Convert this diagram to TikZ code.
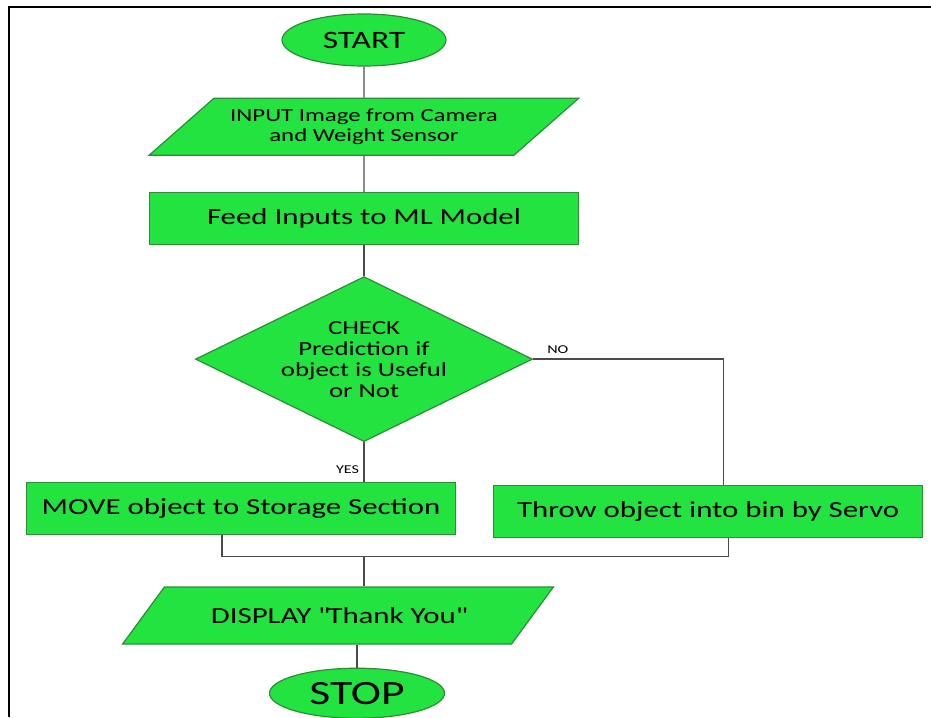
\documentclass[tikz,border=0pt]{standalone}
\usepackage{fontspec}
\setmainfont[FakeStretch=1.34]{Carlito}
\usetikzlibrary{positioning, shapes.geometric}
\definecolor{flowgreen}{RGB}{34,227,64}
\definecolor{flowedge}{RGB}{46,140,56}
\definecolor{flowwire}{RGB}{75,75,75}
\newcommand{\flowfont}[2]{\fontsize{#1}{#2}\selectfont}

\begin{document}
\begin{tikzpicture}[
    terminal/.style={ellipse, draw=flowedge, fill=flowgreen, line width=1.2pt,
                     inner sep=0pt},
    io/.style={trapezium, trapezium left angle=36, trapezium right angle=144,
               trapezium stretches=true, draw=flowedge, fill=flowgreen,
               line width=1.2pt, minimum width=432pt, minimum height=57pt,
               align=center},
    process/.style={rectangle, draw=flowedge, fill=flowgreen, line width=1.2pt,
                    minimum width=429pt, minimum height=52pt,
                    font=\flowfont{23}{27}},
    decision/.style={diamond, draw=flowedge, fill=flowgreen, line width=1.2pt,
                     minimum width=337pt, minimum height=165pt, inner sep=0pt},
    wire/.style={draw=flowwire, line width=1.4pt},
    tag/.style={font=\flowfont{12}{14}}
  ]
  \useasboundingbox (0,0) rectangle (931pt,-717pt);
  \draw[line width=2.5pt] (931pt,-7pt) -- (9pt,-7pt) -- (9pt,-717pt);

  \node[terminal, minimum width=164pt, minimum height=52pt,
        font=\flowfont{25}{30}] (start) at (364pt,-40pt) {START};
  \node[io, below=31pt of start, font=\flowfont{18.5}{20.5}] (input)
    {INPUT Image from Camera\\and Weight Sensor};
  \node[process, below=36pt of input] (feed) {Feed Inputs to ML Model};
  \node[decision, below=31pt of feed] (check) {};
  \node[align=center, font=\flowfont{20}{21}] (checktext) at (check)
    {CHECK\\Prediction if\\object is Useful\\or Not};
  \node[process, below=40pt of check, xshift=-123pt] (move)
    {MOVE object to Storage Section};
  \node[process, right=37pt of move, yshift=-3pt] (throw)
    {Throw object into bin by Servo};
  \node[io, below=51pt of move, xshift=97pt, font=\flowfont{23}{27}] (display)
    {DISPLAY \textquotedbl Thank You\textquotedbl};
  \node[terminal, below=23pt of display, xshift=19pt, minimum width=175pt,
        minimum height=50pt, font=\flowfont{34}{40}] (stop) {STOP};

  \draw[wire] (start) -- (input);
  \draw[wire] (input) -- (feed);
  \draw[wire] (feed) -- (check);
  \draw[wire] (check.south) -- node[tag, pos=0.68, left=1pt] {YES}
    (check.south |- move.north);
  \draw[wire] (check.east) -- node[tag, pos=0.13, above=1pt] {NO}
    ++(190pt,0) -| ([xshift=15pt]throw.north);
  \coordinate (merge) at ([yshift=-21pt]move.south -| check.south);
  \draw[wire] ([xshift=-19pt]move.south) |- (merge)
    -| ([xshift=20pt]throw.south);
  \draw[wire] (merge) -- (merge |- display.north);
  \draw[wire] (display.south -| stop.north) -- (stop.north);
\end{tikzpicture}
\end{document}
